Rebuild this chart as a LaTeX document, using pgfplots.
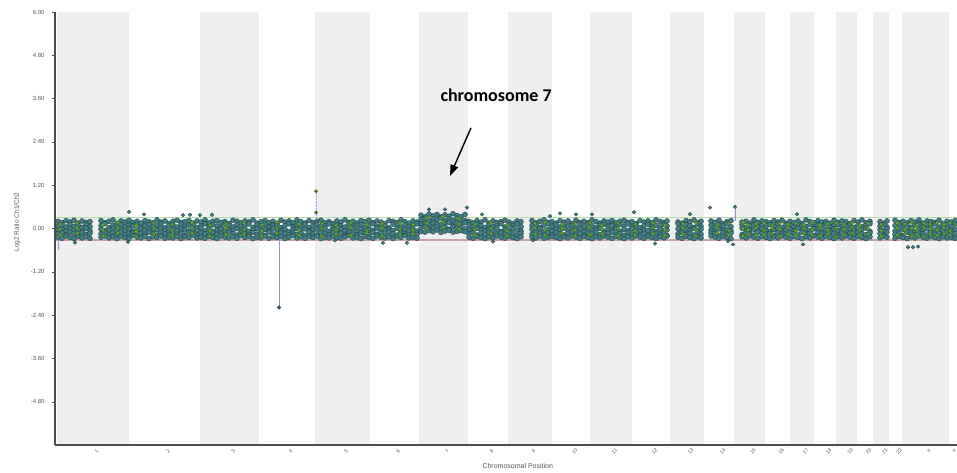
\documentclass[border=0pt]{standalone}
\usepackage{pgfplots}
\usepackage{pgfplotstable}
\pgfplotsset{compat=1.18}
\usepackage{fontspec}
\setmainfont{Liberation Sans}
\newfontfamily\calloutfont{Carlito}
\usetikzlibrary{arrows.meta}

\definecolor{bandgray}{HTML}{EFEFEF}
\definecolor{dotfill}{HTML}{427E84}
\definecolor{dotedge}{HTML}{1F3D45}
\definecolor{greenfill}{HTML}{66A832}
\definecolor{greenedge}{HTML}{3C6E1A}
\definecolor{upline}{HTML}{B4DCA8}
\definecolor{lowline}{HTML}{C9A3A3}
\definecolor{segline}{HTML}{8F8FE3}
\definecolor{axisgray}{HTML}{4D4D4D}
\definecolor{labelgray}{HTML}{555555}

% x = position in plot units (chromosomes laid end to end), five probes per column
\pgfplotstableread{
x a b c d e
3 0.20 0.07 -0.04 -0.15 -0.24
7 0.16 0.10 -0.02 -0.12 -0.27
11 0.22 0.04 -0.07 -0.17 -0.21
15 0.18 0.12 0.00 -0.10 -0.25
19 0.23 0.06 -0.05 -0.14 -0.28
23 0.15 0.09 -0.03 -0.19 -0.22
27 0.21 0.03 -0.08 -0.11 -0.26
31 0.17 0.11 0.01 -0.16 -0.23
35 0.19 0.05 -0.06 -0.13 -0.27
46 0.22 0.08 -0.02 -0.15 -0.24
50 0.16 0.13 -0.06 -0.11 -0.21
54 0.20 0.02 -0.04 -0.18 -0.26
58 0.24 0.09 0.01 -0.12 -0.23
62 0.14 0.06 -0.07 -0.16 -0.28
66 0.21 0.11 -0.03 -0.10 -0.22
70 0.18 0.04 -0.05 -0.17 -0.25
74 0.23 0.10 -0.01 -0.14 -0.27
78 0.17 0.07 -0.08 -0.12 -0.20
82 0.20 0.12 -0.04 -0.19 -0.24
86 0.15 0.03 0.00 -0.13 -0.26
90 0.22 0.08 -0.06 -0.16 -0.22
94 0.19 0.11 -0.02 -0.10 -0.28
98 0.16 0.05 -0.07 -0.15 -0.23
102 0.24 0.09 -0.03 -0.18 -0.25
106 0.18 0.13 0.01 -0.11 -0.21
110 0.21 0.02 -0.05 -0.14 -0.27
114 0.14 0.07 -0.08 -0.17 -0.24
118 0.20 0.10 -0.02 -0.12 -0.26
122 0.23 0.04 -0.06 -0.16 -0.22
126 0.17 0.12 0.00 -0.13 -0.28
130 0.19 0.06 -0.04 -0.19 -0.23
134 0.22 0.09 -0.07 -0.10 -0.25
138 0.15 0.11 -0.03 -0.15 -0.20
142 0.21 0.03 -0.05 -0.18 -0.26
146 0.18 0.08 0.01 -0.12 -0.24
150 0.24 0.13 -0.06 -0.14 -0.27
154 0.16 0.05 -0.02 -0.17 -0.22
158 0.20 0.10 -0.08 -0.11 -0.25
162 0.22 0.07 -0.04 -0.16 -0.28
166 0.17 0.02 -0.01 -0.13 -0.21
170 0.19 0.12 -0.07 -0.19 -0.24
174 0.14 0.09 -0.03 -0.10 -0.26
178 0.23 0.04 -0.05 -0.15 -0.23
182 0.20 0.11 0.00 -0.18 -0.27
186 0.16 0.06 -0.06 -0.12 -0.20
190 0.21 0.08 -0.02 -0.14 -0.25
194 0.18 0.13 -0.08 -0.17 -0.22
198 0.24 0.03 -0.04 -0.11 -0.28
202 0.15 0.10 -0.01 -0.16 -0.24
206 0.19 0.07 -0.05 -0.13 -0.26
210 0.22 0.12 -0.03 -0.19 -0.21
214 0.17 0.05 -0.07 -0.10 -0.27
218 0.20 0.09 0.01 -0.15 -0.23
222 0.14 0.11 -0.04 -0.18 -0.25
226 0.23 0.02 -0.06 -0.12 -0.22
230 0.18 0.08 -0.02 -0.14 -0.28
234 0.21 0.13 -0.08 -0.17 -0.24
238 0.16 0.04 -0.03 -0.11 -0.20
242 0.24 0.10 0.00 -0.16 -0.26
246 0.19 0.06 -0.05 -0.13 -0.23
250 0.15 0.12 -0.01 -0.19 -0.27
254 0.22 0.03 -0.07 -0.10 -0.22
258 0.17 0.09 -0.04 -0.15 -0.25
262 0.20 0.11 -0.02 -0.18 -0.21
266 0.23 0.05 -0.06 -0.12 -0.28
270 0.16 0.08 0.01 -0.14 -0.24
274 0.19 0.13 -0.08 -0.17 -0.26
278 0.14 0.02 -0.03 -0.11 -0.22
282 0.21 0.10 -0.05 -0.16 -0.25
286 0.18 0.07 -0.01 -0.13 -0.27
290 0.24 0.04 -0.07 -0.19 -0.23
294 0.17 0.12 -0.04 -0.10 -0.20
298 0.20 0.06 0.00 -0.15 -0.26
302 0.15 0.09 -0.06 -0.18 -0.24
306 0.22 0.11 -0.02 -0.12 -0.28
310 0.19 0.03 -0.08 -0.14 -0.22
314 0.23 0.08 -0.03 -0.17 -0.25
318 0.16 0.13 -0.05 -0.11 -0.27
322 0.21 0.05 0.01 -0.16 -0.21
326 0.18 0.10 -0.07 -0.13 -0.24
330 0.14 0.07 -0.04 -0.19 -0.26
334 0.22 0.02 -0.02 -0.10 -0.23
338 0.20 0.12 -0.06 -0.15 -0.28
342 0.17 0.09 0.00 -0.18 -0.22
346 0.24 0.04 -0.08 -0.12 -0.25
350 0.19 0.11 -0.03 -0.14 -0.20
354 0.15 0.06 -0.05 -0.17 -0.26
358 0.21 0.08 -0.01 -0.11 -0.24
362 0.18 0.13 -0.07 -0.16 -0.27
366 0.37 0.25 0.12 0.02 -0.08
370 0.33 0.28 0.15 0.05 -0.10
374 0.40 0.22 0.10 -0.01 -0.06
378 0.35 0.27 0.16 0.03 -0.09
382 0.39 0.24 0.13 0.06 -0.04
386 0.32 0.29 0.11 0.00 -0.11
390 0.38 0.21 0.14 0.04 -0.07
394 0.34 0.26 0.17 -0.02 -0.05
398 0.41 0.23 0.09 0.05 -0.10
402 0.36 0.28 0.15 0.01 -0.08
406 0.33 0.25 0.12 0.03 -0.06
410 0.39 0.22 0.16 -0.01 -0.09
414 0.20 0.10 -0.03 -0.15 -0.24
418 0.16 0.05 -0.06 -0.12 -0.27
422 0.22 0.12 0.00 -0.18 -0.22
426 0.18 0.08 -0.04 -0.13 -0.25
430 0.24 0.03 -0.07 -0.16 -0.28
434 0.15 0.11 -0.02 -0.10 -0.23
438 0.21 0.06 -0.05 -0.19 -0.26
442 0.17 0.09 0.01 -0.14 -0.21
446 0.19 0.13 -0.08 -0.11 -0.24
450 0.23 0.04 -0.03 -0.17 -0.27
454 0.18 0.10 -0.06 -0.12 -0.22
458 0.14 0.07 -0.01 -0.15 -0.25
462 0.21 0.12 -0.04 -0.18 -0.28
466 0.19 0.05 -0.07 -0.13 -0.23
477 0.22 0.08 -0.02 -0.16 -0.24
481 0.16 0.11 -0.05 -0.10 -0.26
485 0.20 0.03 0.00 -0.14 -0.21
489 0.24 0.09 -0.08 -0.19 -0.27
493 0.17 0.13 -0.03 -0.12 -0.24
497 0.19 0.06 -0.06 -0.17 -0.22
501 0.15 0.10 -0.02 -0.11 -0.25
505 0.22 0.04 -0.04 -0.15 -0.28
509 0.18 0.12 0.01 -0.18 -0.23
513 0.21 0.07 -0.07 -0.13 -0.26
517 0.14 0.09 -0.03 -0.10 -0.21
521 0.23 0.02 -0.05 -0.16 -0.24
525 0.17 0.11 0.00 -0.14 -0.27
529 0.20 0.05 -0.08 -0.19 -0.22
533 0.16 0.13 -0.02 -0.12 -0.25
537 0.24 0.08 -0.06 -0.15 -0.28
541 0.19 0.03 -0.04 -0.11 -0.23
545 0.15 0.10 0.01 -0.17 -0.26
549 0.21 0.12 -0.07 -0.13 -0.21
553 0.18 0.06 -0.03 -0.18 -0.24
557 0.22 0.09 -0.05 -0.10 -0.27
561 0.16 0.04 -0.01 -0.16 -0.22
565 0.20 0.11 -0.08 -0.14 -0.25
569 0.23 0.07 -0.02 -0.19 -0.28
573 0.17 0.13 -0.06 -0.12 -0.23
577 0.19 0.05 0.00 -0.15 -0.26
581 0.14 0.10 -0.04 -0.11 -0.21
585 0.22 0.02 -0.07 -0.17 -0.24
589 0.18 0.08 -0.03 -0.13 -0.27
593 0.21 0.12 -0.05 -0.18 -0.22
597 0.16 0.06 0.01 -0.10 -0.25
601 0.24 0.09 -0.08 -0.14 -0.28
605 0.20 0.04 -0.02 -0.16 -0.23
609 0.17 0.11 -0.06 -0.12 -0.26
612 0.21 0.07 -0.04 -0.19 -0.21
623 0.18 0.13 -0.01 -0.15 -0.24
627 0.15 0.05 -0.07 -0.11 -0.27
631 0.22 0.10 -0.03 -0.17 -0.22
635 0.19 0.08 -0.05 -0.13 -0.25
639 0.24 0.03 0.00 -0.18 -0.28
643 0.16 0.12 -0.06 -0.10 -0.23
646 0.20 0.06 -0.02 -0.16 -0.26
656 0.21 0.09 -0.04 -0.12 -0.21
660 0.17 0.04 -0.08 -0.14 -0.24
664 0.23 0.11 -0.01 -0.19 -0.27
668 0.14 0.07 -0.05 -0.11 -0.22
672 0.19 0.13 -0.03 -0.16 -0.25
676 0.22 0.05 -0.06 -0.13 -0.28
687 0.18 0.10 0.01 -0.17 -0.23
691 0.20 0.02 -0.07 -0.12 -0.26
695 0.15 0.08 -0.04 -0.15 -0.21
699 0.24 0.12 -0.02 -0.18 -0.24
703 0.17 0.06 -0.06 -0.10 -0.27
707 0.21 0.09 0.00 -0.14 -0.22
711 0.19 0.04 -0.05 -0.16 -0.25
715 0.16 0.11 -0.08 -0.13 -0.28
719 0.22 0.07 -0.03 -0.19 -0.23
723 0.18 0.13 -0.01 -0.11 -0.26
727 0.23 0.03 -0.06 -0.15 -0.21
731 0.15 0.10 -0.04 -0.17 -0.24
735 0.20 0.08 -0.02 -0.12 -0.27
739 0.17 0.05 -0.07 -0.14 -0.22
743 0.21 0.12 0.01 -0.18 -0.25
747 0.14 0.09 -0.05 -0.10 -0.28
751 0.24 0.06 -0.03 -0.16 -0.23
755 0.19 0.11 -0.06 -0.13 -0.26
759 0.16 0.02 -0.01 -0.19 -0.21
763 0.22 0.10 -0.04 -0.11 -0.24
767 0.18 0.07 -0.08 -0.15 -0.27
771 0.20 0.13 -0.02 -0.17 -0.22
775 0.15 0.04 -0.06 -0.12 -0.25
779 0.23 0.09 0.00 -0.14 -0.28
783 0.17 0.11 -0.05 -0.18 -0.23
787 0.21 0.06 -0.03 -0.10 -0.26
791 0.19 0.08 -0.07 -0.16 -0.21
795 0.14 0.12 -0.01 -0.13 -0.24
799 0.22 0.03 -0.04 -0.19 -0.27
803 0.18 0.10 -0.06 -0.11 -0.22
807 0.24 0.05 -0.02 -0.15 -0.25
811 0.16 0.09 0.01 -0.17 -0.28
815 0.20 0.13 -0.08 -0.12 -0.23
825 0.19 0.07 -0.03 -0.14 -0.26
829 0.15 0.11 -0.05 -0.18 -0.21
832 0.21 0.04 -0.01 -0.10 -0.24
840 0.23 0.08 -0.07 -0.16 -0.27
844 0.17 0.12 -0.04 -0.13 -0.22
848 0.20 0.06 -0.02 -0.19 -0.25
852 0.16 0.10 -0.06 -0.11 -0.28
856 0.22 0.03 0.00 -0.15 -0.23
860 0.18 0.09 -0.08 -0.17 -0.26
864 0.24 0.12 -0.03 -0.12 -0.21
868 0.15 0.05 -0.05 -0.14 -0.24
872 0.21 0.11 -0.01 -0.18 -0.27
876 0.19 0.07 -0.07 -0.10 -0.22
880 0.17 0.13 -0.04 -0.16 -0.25
884 0.23 0.04 -0.02 -0.13 -0.28
888 0.14 0.08 -0.06 -0.19 -0.23
892 0.20 0.10 0.01 -0.11 -0.26
896 0.18 0.06 -0.05 -0.15 -0.24
900 0.22 0.12 -0.03 -0.17 -0.27
}\tealdata

% green probes (vertical streaks)
\pgfplotstableread{
x a b c
5 0.12 -0.02 -0.18
22 0.15 0.01 -0.14
48 0.10 -0.05 -0.20
63 0.17 0.02 -0.12
81 0.08 -0.08 -0.22
99 0.14 0.00 -0.16
117 0.11 -0.04 -0.19
137 0.16 0.03 -0.13
155 0.09 -0.06 -0.21
171 0.13 0.01 -0.17
189 0.15 -0.03 -0.15
207 0.10 -0.07 -0.20
222 0.17 0.02 -0.14
244 0.12 -0.05 -0.18
267 0.14 0.00 -0.22
281 0.09 -0.04 -0.16
296 0.16 0.03 -0.19
312 0.11 -0.06 -0.13
327 0.13 0.01 -0.21
345 0.15 -0.02 -0.17
358 0.10 -0.05 -0.15
372 0.30 0.15 0.00
388 0.33 0.18 0.03
404 0.28 0.12 -0.02
420 0.12 -0.03 -0.18
436 0.15 0.00 -0.14
452 0.10 -0.06 -0.20
480 0.14 0.02 -0.16
490 0.17 -0.04 -0.19
507 0.11 0.01 -0.13
520 0.13 -0.05 -0.21
535 0.16 0.03 -0.17
547 0.09 -0.02 -0.15
563 0.14 0.00 -0.20
580 0.12 -0.07 -0.18
598 0.15 0.02 -0.14
610 0.10 -0.04 -0.19
628 0.13 0.01 -0.16
641 0.16 -0.03 -0.21
662 0.11 0.03 -0.13
674 0.14 -0.06 -0.18
688 0.17 0.00 -0.20
693 0.10 -0.04 -0.15
701 0.13 0.02 -0.19
709 0.15 -0.05 -0.17
717 0.09 0.01 -0.14
725 0.16 -0.02 -0.21
733 0.12 0.03 -0.16
741 0.14 -0.06 -0.19
749 0.11 0.00 -0.13
757 0.17 -0.03 -0.18
765 0.10 0.02 -0.20
773 0.13 -0.05 -0.15
781 0.15 0.01 -0.22
789 0.12 -0.02 -0.17
797 0.16 0.03 -0.14
805 0.09 -0.04 -0.19
813 0.14 0.00 -0.16
826 0.11 -0.06 -0.21
842 0.15 0.02 -0.18
850 0.13 -0.03 -0.15
857 0.17 0.01 -0.20
862 0.10 -0.05 -0.17
869 0.14 0.03 -0.22
875 0.12 -0.01 -0.16
882 0.16 -0.04 -0.19
889 0.11 0.02 -0.14
895 0.15 -0.06 -0.18
}\greendata

% single probes outside the main band
\pgfplotstableread{
x y
20 -0.39
73 -0.37
74 0.46
89 0.39
128 0.37
135 0.38
145 0.37
157 0.38
280 -0.33
328 -0.40
352 -0.40
374 0.53
390 0.53
412 0.58
427 0.39
438 -0.36
478 -0.33
495 0.34
505 0.42
521 0.39
537 0.39
579 0.45
600 -0.42
635 0.40
655 0.58
673 -0.35
678 -0.44
680 0.60
742 0.40
748 -0.44
853 -0.52
858 -0.52
863 -0.50
}\outlierdata

\begin{document}
\begin{tikzpicture}
\useasboundingbox (-55pt,-27pt) rectangle (902pt,445pt);
\begin{axis}[
    at={(0,0)}, anchor=south west,
    scale only axis,
    width=902pt, height=433pt,
    xmin=0, xmax=902,
    ymin=-6, ymax=6,
    axis on top,
    axis x line*=bottom, axis y line*=left,
    axis line style={-, line width=1.6pt, draw=axisgray},
    ytick={-4.8,-3.6,-2.4,-1.2,0,1.2,2.4,3.6,4.8,6},
    yticklabel style={font=\fontsize{6}{6}\selectfont, text=labelgray, xshift=-4pt,
        /pgf/number format/.cd, fixed, fixed zerofill, precision=2, assume math mode=true},
    ytick style={draw=labelgray, line width=0.4pt},
    major tick length=3pt,
    tick align=outside,
    xtick={38,109.5,174.5,232,287.5,339.5,388.5,433,475,516,556,596,632,664,694.5,722.5,747,770,791.5,810,826,840.5,870.5,896},
    xticklabels={1,2,3,4,5,6,7,8,9,10,11,12,13,14,15,16,17,18,19,20,21,22,X,Y},
    xtick style={draw=none},
    xticklabel style={rotate=45, anchor=center, yshift=-5pt, font=\fontsize{5}{5}\selectfont, text=labelgray},
    xlabel={Chromosomal Position},
    xlabel style={at={(axis description cs:0.513,-0.049)}, anchor=center,
        font=\fontsize{7}{7}\selectfont, text=labelgray},
    ylabel={Log2 Ratio Ch1/Ch2},
    ylabel style={at={(axis description cs:-0.042,0.515)}, anchor=center,
        font=\fontsize{6.5}{6.5}\selectfont, text=labelgray},
]
% alternating chromosome bands
\addplot[fill=bandgray, draw=none] coordinates {(2,-6)(2,6)(74,6)(74,-6)} -- cycle;
\addplot[fill=bandgray, draw=none] coordinates {(145,-6)(145,6)(204,6)(204,-6)} -- cycle;
\addplot[fill=bandgray, draw=none] coordinates {(260,-6)(260,6)(315,6)(315,-6)} -- cycle;
\addplot[fill=bandgray, draw=none] coordinates {(364,-6)(364,6)(413,6)(413,-6)} -- cycle;
\addplot[fill=bandgray, draw=none] coordinates {(453,-6)(453,6)(497,6)(497,-6)} -- cycle;
\addplot[fill=bandgray, draw=none] coordinates {(535,-6)(535,6)(577,6)(577,-6)} -- cycle;
\addplot[fill=bandgray, draw=none] coordinates {(615,-6)(615,6)(649,6)(649,-6)} -- cycle;
\addplot[fill=bandgray, draw=none] coordinates {(679,-6)(679,6)(710,6)(710,-6)} -- cycle;
\addplot[fill=bandgray, draw=none] coordinates {(735,-6)(735,6)(759,6)(759,-6)} -- cycle;
\addplot[fill=bandgray, draw=none] coordinates {(781,-6)(781,6)(802,6)(802,-6)} -- cycle;
\addplot[fill=bandgray, draw=none] coordinates {(818,-6)(818,6)(834,6)(834,-6)} -- cycle;
\addplot[fill=bandgray, draw=none] coordinates {(847,-6)(847,6)(894,6)(894,-6)} -- cycle;

% gain / loss thresholds
\addplot[upline, line width=1.3pt] coordinates {(0,0.30)(902,0.30)};
\addplot[lowline, line width=1.3pt] coordinates {(0,-0.32)(902,-0.32)};

% single-probe excursions
\addplot[segline, line width=0.8pt] coordinates {(3,-0.05)(3,-0.60)};
\addplot[segline, line width=0.8pt, mark=*, mark size=1.6pt,
    mark options={fill=dotfill, draw=dotedge}] coordinates {(224,-0.05)(224,-2.19)};
\addplot[segline, densely dotted, line width=0.8pt] coordinates {(261,0.20)(261,1.03)};
\addplot[segline, line width=0.6pt] coordinates {(680,0.20)(680,0.60)};

% probes
\pgfplotsinvokeforeach{a,b,c,d,e}{
\addplot[only marks, mark=*, mark size=2.5pt,
    mark options={fill=dotfill, draw=dotedge, line width=0.35pt}] table[x=x, y=#1] {\tealdata};
}
\pgfplotsinvokeforeach{a,b,c}{
\addplot[only marks, mark=*, mark size=1.9pt,
    mark options={fill=greenfill, draw=greenedge, line width=0.35pt}] table[x=x, y=#1] {\greendata};
}
\addplot[only marks, mark=*, mark size=1.8pt,
    mark options={fill=dotfill, draw=dotedge, line width=0.35pt}] table[x=x, y=y] {\outlierdata};
\addplot[only marks, mark=*, mark size=1.6pt,
    mark options={fill=greenfill!70!black, draw=greenedge}] coordinates {(261,1.03)(261,0.44)};

% annotation
\node[anchor=west, font=\calloutfont\bfseries\fontsize{18}{18}\selectfont]
    at (axis cs:382,3.70) {chromosome 7};
\draw[-{Triangle[length=11pt,width=8pt]}, line width=1.4pt]
    (axis cs:416,2.79) -- (axis cs:395,1.46);
\end{axis}
\end{tikzpicture}
\end{document}
